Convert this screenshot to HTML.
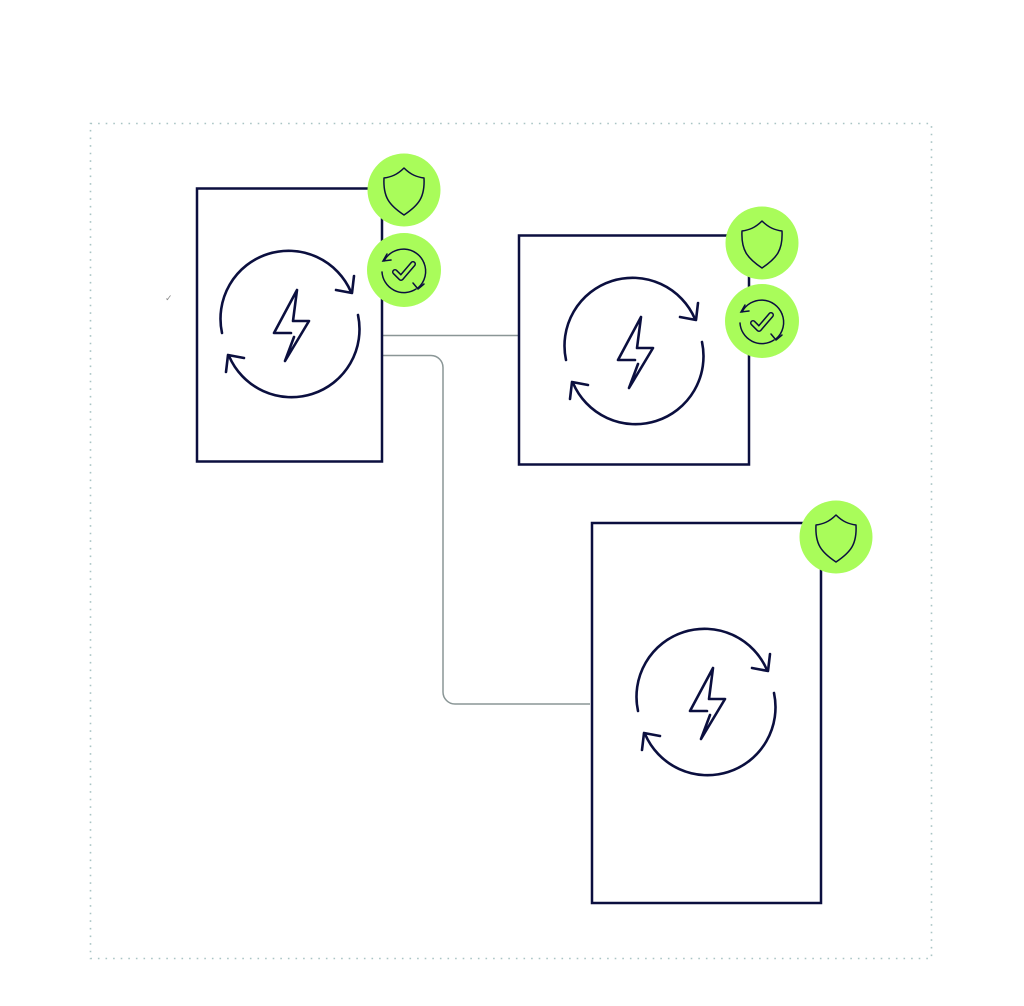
<!DOCTYPE html>
<html><head><meta charset="utf-8"><style>
html,body{margin:0;padding:0;background:#fff;width:1024px;height:1006px;overflow:hidden}
</style></head><body>
<svg width="1024" height="1006" viewBox="0 0 1024 1006" xmlns="http://www.w3.org/2000/svg">
<defs>
  <g id="ic" fill="none" stroke="#0b0f3f" stroke-width="2.6" stroke-linecap="round" stroke-linejoin="round">
    <path d="M-68,9 A68,68 0 0 1 61,-32"/>
    <path d="M62,-31 L46,-34 M62,-31 L64,-48"/>
    <path d="M68,-9 A68,68 0 0 1 -61,32"/>
    <path d="M-62,31 L-46,34 M-62,31 L-64,48"/>
    <path d="M7,-34 L-16,9 L1,9 M4,13 L-5,37 L19,-3 L3,-3 L7,-34" />
  </g>
  <g id="sh">
    <circle r="36.5" fill="#a9fc5a"/>
    <path d="M0,-22 C7,-15 13,-13 20,-12 C21,7 15,15 0,25 C-15,15 -21,7 -20,-12 C-13,-13 -7,-15 0,-22 Z" fill="none" stroke="#0b0f3f" stroke-width="1.5" stroke-linejoin="round"/>
  </g>
  <g id="ck">
    <circle r="37" fill="#a9fc5a"/>
    <g fill="none" stroke="#0b0f3f" stroke-width="1.5" stroke-linecap="round">
      <path d="M-20,-9 A22,22 0 0 1 20,-7"/>
      <path d="M-17,-16 L-21,-9 L-13,-10"/>
      <path d="M-22,2 A22,22 0 0 0 12,19"/>
      <path d="M20,-7 A22,22 0 0 1 14,18"/>
      <path d="M14,19 L9,13 M14,19 L20,14"/>
    </g>
    <path d="M-9,2 L-3,8 L9,-6" fill="none" stroke="#0b0f3f" stroke-width="6" stroke-linecap="round" stroke-linejoin="round"/>
    <path d="M-9,2 L-3,8 L9,-6" fill="none" stroke="#a9fc5a" stroke-width="3" stroke-linecap="round" stroke-linejoin="round"/>
  </g>
</defs>
<rect x="90.5" y="123.5" width="841" height="835" fill="none" stroke="#a9c4c4" stroke-width="1.6" stroke-dasharray="1.6,6"/>
<g fill="none" stroke="#8a9696" stroke-width="1.5">
  <path d="M382,335.5 H519"/>
  <path d="M382,355.5 H431 A12,12 0 0 1 443,367.5 V692 A12,12 0 0 0 455,704 H590"/>
</g>
<g fill="none" stroke="#0b0f3f" stroke-width="2.5">
  <rect x="197" y="188.5" width="185" height="273"/>
  <rect x="519" y="235.5" width="230" height="229"/>
  <rect x="592" y="523" width="229" height="380"/>
</g>
<use href="#ic" x="290" y="324"/>
<use href="#ic" x="634" y="351"/>
<use href="#ic" x="706" y="702"/>
<use href="#sh" x="404" y="190"/>
<use href="#ck" x="404" y="270"/>
<use href="#sh" x="762" y="243"/>
<use href="#ck" x="762" y="321"/>
<use href="#sh" x="836" y="537"/>
<text x="165" y="301" font-family="DejaVu Sans, sans-serif" font-size="9" fill="#888">✓</text>
</svg>
</body></html>
